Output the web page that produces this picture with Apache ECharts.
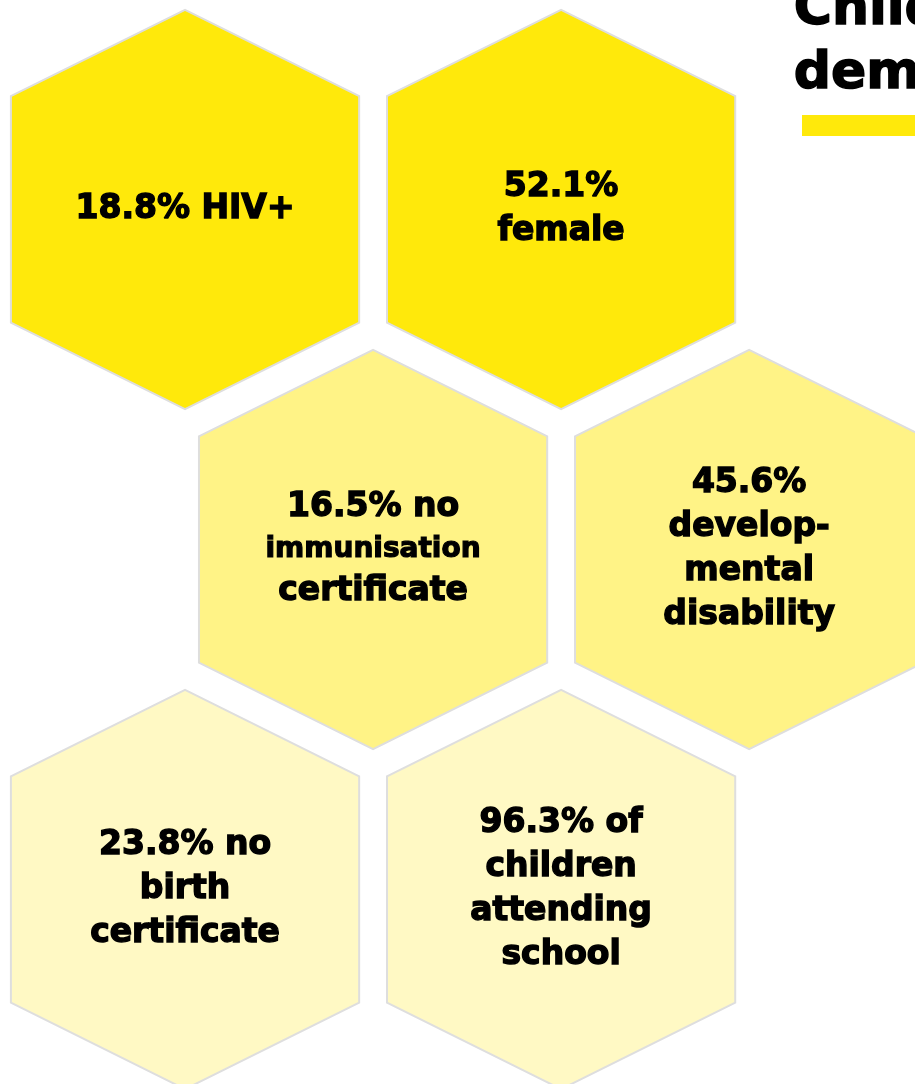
<!DOCTYPE html>
<html lang="en">
<head>
<meta charset="UTF-8">
<title>Children's demographics</title>
<script src="https://cdn.jsdelivr.net/npm/echarts@6/dist/echarts.min.js"></script>
<style>
  html, body { margin: 0; padding: 0; background: #fff; }
  #main { width: 915px; height: 1084px; }
</style>
</head>
<body>
<div id="main"></div>
<script>
// chart data
var titleLines = ["Children's", "demographics"];
var values = [18.8, 52.1, 16.5, 45.6, 23.8, 96.3];
var labels = [
  ' HIV+',
  '\nfemale',
  ' no\nimmunisation\ncertificate',
  '\ndevelop-\nmental\ndisability',
  ' no\nbirth\ncertificate',
  ' of\nchildren\nattending\nschool'
];
var rowColors = ['#FFE90B', '#FFF386', '#FFF9C4'];

var myChart = echarts.init(document.getElementById('main'));

function renderHex(params, api) {
  var i = params.dataIndex;
  var row = Math.floor(i / 2);
  var col = i % 2 + (row % 2) * 0.5;   // every second row shifted half a cell
  var c = api.coord([col, row]);
  var s = api.size([1, 1]);
  var hw = s[0] * 0.463, sy = s[1] * 0.333, ty = s[1] * 0.587;
  var pts = [
    [c[0], c[1] - ty], [c[0] + hw, c[1] - sy], [c[0] + hw, c[1] + sy],
    [c[0], c[1] + ty], [c[0] - hw, c[1] + sy], [c[0] - hw, c[1] - sy]
  ];
  var lines = (api.value(1).toFixed(1) + '%' + labels[i]).split('\n');
  // long words are set a bit smaller so they fit
  var txt = lines.map(function (l) {
    return l.length > 11 ? '{s|' + l + '}' : '{n|' + l + '}';
  }).join('\n');
  return {
    type: 'group',
    children: [{
      type: 'polygon',
      shape: { points: pts },
      style: { fill: rowColors[row], stroke: '#DEDEDE', lineWidth: 2 }
    }, {
      type: 'text',
      x: c[0],
      y: c[1],
      style: {
        text: txt,
        align: 'center',
        verticalAlign: 'middle',
        fill: '#000',
        rich: {
          n: { fontFamily: 'DejaVu Sans', fontWeight: 'bold', fontSize: 33, lineHeight: 44,
               fill: '#000', stroke: '#000', lineWidth: 1.4 },
          s: { fontFamily: 'DejaVu Sans', fontWeight: 'bold', fontSize: 28, lineHeight: 40,
               fill: '#000', stroke: '#000', lineWidth: 1.2 }
        }
      }
    }]
  };
}

var option = {
  animation: false,
  backgroundColor: '#fff',
  grid: { left: 0, right: 0, top: 0, bottom: 0 },
  // one unit = one hexagon cell (376px wide, 340px tall)
  xAxis: { type: 'value', min: -0.492, max: 1.941, show: false },
  yAxis: { type: 'value', min: -0.616, max: 2.572, inverse: true, show: false },
  graphic: [{
    type: 'text',
    left: 793,
    top: -22,
    style: {
      text: titleLines.join('\n'),
      fontFamily: 'DejaVu Sans',
      fontWeight: 'bold',
      fontSize: 52,
      lineHeight: 64,
      fill: '#000',
      stroke: '#000',
      lineWidth: 1.5
    }
  }, {
    type: 'rect',
    left: 802,
    top: 115,
    shape: { width: 120, height: 21 },
    style: { fill: '#FFE90B' }
  }],
  series: [{
    type: 'custom',
    renderItem: renderHex,
    data: values.map(function (v, i) { return [i, v]; }),
    silent: true
  }]
};

myChart.setOption(option);
</script>
</body>
</html>
